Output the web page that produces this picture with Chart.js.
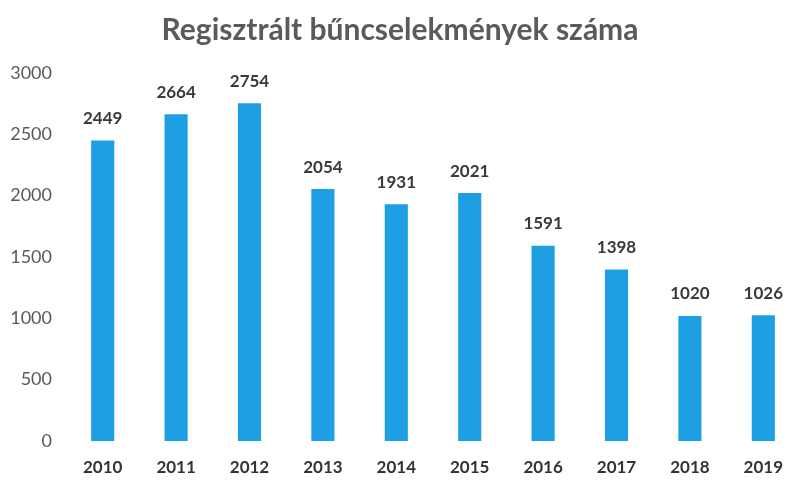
<!DOCTYPE html>
<html lang="hu">
<head>
  <meta charset="UTF-8">
  <title>Regisztrált bűncselekmények száma</title>
  <script src="https://cdn.jsdelivr.net/npm/chart.js@4"></script>
  <style>
    * { margin: 0; padding: 0; box-sizing: border-box; }
    html, body { width: 789px; height: 481px; overflow: hidden; background: #fff; }
    .box { width: 800px; height: 481px; }
  </style>
</head>
<body>
  <div class="box"><canvas id="chart"></canvas></div>
  <script>
    const years = ['2010', '2011', '2012', '2013', '2014', '2015', '2016', '2017', '2018', '2019']
    const counts = [2449, 2664, 2754, 2054, 1931, 2021, 1591, 1398, 1020, 1026]
    const yTicks = [0, 500, 1000, 1500, 2000, 2500, 3000]

    const font = 'Lato, "Open Sans", sans-serif'

    // value labels above the bars
    const valueLabels = {
      id: 'valueLabels',
      afterDatasetsDraw(chart) {
        const { ctx } = chart
        const meta = chart.getDatasetMeta(0)
        ctx.save()
        ctx.font = `bold 17px ${font}`
        ctx.fillStyle = '#3a3a3a'
        ctx.textAlign = 'center'
        ctx.textBaseline = 'middle'
        meta.data.forEach((bar, i) => {
          ctx.fillText(String(counts[i]), bar.x, bar.y - 22)
        })
        ctx.restore()
      }
    }

    new Chart(document.getElementById('chart'), {
      type: 'bar',
      data: {
        labels: years,
        datasets: [{
          data: counts,
          backgroundColor: '#1E9FE3',
          barPercentage: 0.63,
          categoryPercentage: 0.5
        }]
      },
      options: {
        responsive: true,
        maintainAspectRatio: false,
        animation: false,
        layout: { padding: { top: 6, bottom: 0, left: 0, right: 0 } },
        plugins: {
          legend: { display: false },
          tooltip: { enabled: false },
          title: {
            display: true,
            text: 'Regisztrált bűncselekmények száma',
            color: '#5a5a5a',
            font: { family: font, size: 30, weight: 'bold' },
            padding: { top: 6, bottom: 25 }
          }
        },
        scales: {
          x: {
            afterFit: (scale) => { scale.height = 40 },
            grid: { display: false, drawTicks: false },
            border: { display: false },
            ticks: {
              color: '#333',
              padding: 16,
              font: { family: font, size: 17, weight: 'bold' }
            }
          },
          y: {
            min: 0,
            max: 3000,
            afterBuildTicks: (scale) => { scale.ticks = yTicks.map(v => ({ value: v })) },
            afterFit: (scale) => { scale.width = 66 },
            grid: { display: false, drawTicks: false },
            border: { display: false },
            ticks: {
              color: '#5a5a5a',
              padding: 14,
              callback: (v) => String(v),
              font: { family: font, size: 18 }
            }
          }
        }
      },
      plugins: [valueLabels]
    })
  </script>
</body>
</html>
